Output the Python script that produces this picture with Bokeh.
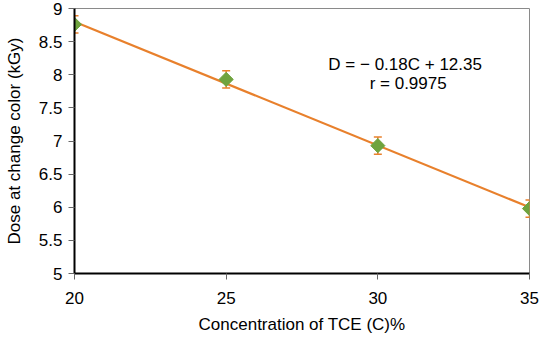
import numpy as np
from bokeh.plotting import figure
from bokeh.models import ColumnDataSource, Whisker, Label, TeeHead, Range1d
from bokeh.embed import file_html
from bokeh.resources import INLINE

conc = [20, 25, 30, 35]
dose = [8.76, 7.93, 6.93, 5.98]
err = [0.13, 0.13, 0.13, 0.13]
x_ticks = [20, 25, 30, 35]
y_ticks = [5, 5.5, 6, 6.5, 7, 7.5, 8, 8.5, 9]
eq_text = "D = \u2212 0.18C + 12.35"
r_text = "r = 0.9975"

FONT = "Liberation Sans"
ORANGE = "#E8802C"
GREEN = "#6FA33E"

p = figure(width=550, height=341, output_backend="svg", toolbar_location=None,
           x_range=Range1d(20, 35), y_range=Range1d(5, 9),
           min_border_left=74, min_border_right=21, min_border_top=8, min_border_bottom=68)

# fit line
slope, intercept = np.polyfit(conc, dose, 1)
fx = [conc[0], conc[-1]]
fy = [slope * v + intercept for v in fx]
p.line(fx, fy, line_color=ORANGE, line_width=2.2)

src = ColumnDataSource(dict(x=conc, y=dose,
                            lo=[d - e for d, e in zip(dose, err)],
                            hi=[d + e for d, e in zip(dose, err)]))
wh = Whisker(source=src, base="x", lower="lo", upper="hi", line_color=ORANGE, line_width=1.5,
             upper_head=TeeHead(size=8, line_color=ORANGE, line_width=1.5),
             lower_head=TeeHead(size=8, line_color=ORANGE, line_width=1.5))
p.add_layout(wh)
p.scatter("x", "y", source=src, marker="square", angle=np.pi / 4, size=10,
          fill_color=GREEN, line_color=GREEN)

p.add_layout(Label(x=30.9, y=8.15, text=eq_text, text_align="center", text_baseline="middle",
                   text_font=FONT, text_font_size="17px", text_color="#000000"))
p.add_layout(Label(x=31.0, y=7.865, text=r_text, text_align="center", text_baseline="middle",
                   text_font=FONT, text_font_size="17px", text_color="#000000"))

p.xgrid.visible = False
p.ygrid.visible = False
p.outline_line_color = "#8a8a8a"
p.outline_line_width = 1

p.xaxis.ticker = x_ticks
p.yaxis.ticker = y_ticks
p.xaxis.axis_label = "Concentration of TCE (C)%"
p.yaxis.axis_label = "Dose at change color (kGy)"
for ax in (p.xaxis, p.yaxis):
    ax.axis_line_color = "#000000"
    ax.axis_line_width = 2
    ax.major_tick_line_color = "#666666"
    ax.major_tick_in = 0
    ax.major_tick_out = 6
    ax.minor_tick_line_color = None
    ax.major_label_text_font = FONT
    ax.major_label_text_font_size = "17px"
    ax.major_label_text_color = "#000000"
    ax.axis_label_text_font = FONT
    ax.axis_label_text_font_size = "17px"
    ax.axis_label_text_font_style = "normal"
    ax.axis_label_text_color = "#000000"
p.xaxis.major_label_standoff = 12
p.xaxis.axis_label_standoff = 8
p.yaxis.major_label_standoff = 6
p.yaxis.axis_label_standoff = 12

open("out.html", "w").write(file_html(p, INLINE))
